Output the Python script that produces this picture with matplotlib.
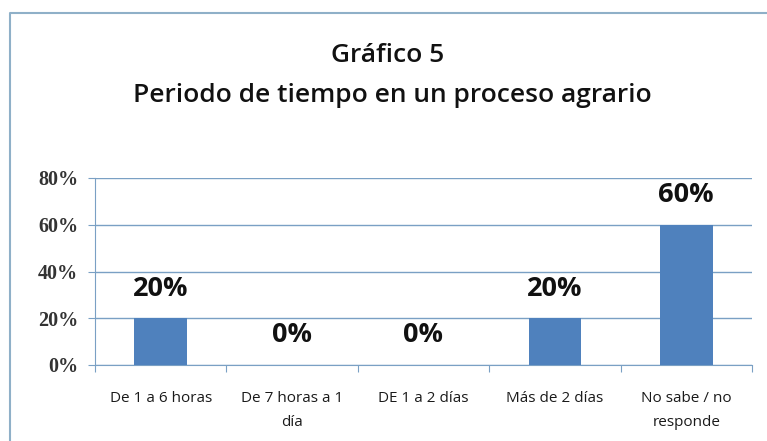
import matplotlib
matplotlib.use("Agg")
import matplotlib.pyplot as plt
from matplotlib.lines import Line2D
from matplotlib.ticker import FuncFormatter

categories = ["De 1 a 6 horas", "De 7 horas a 1\ndía", "DE 1 a 2 días", "Más de 2 días", "No sabe / no\nresponde"]
values = [20, 0, 0, 20, 60]
yticks = [0, 20, 40, 60, 80]
title_lines = ["Gráfico 5", "Periodo de tiempo en un proceso agrario"]

W, H = 767, 441
fig = plt.figure(figsize=(W / 100, H / 100), dpi=100)
fig.patch.set_facecolor("white")

# outer frame (only left and top edges visible)
fig.lines.append(Line2D([9.5 / W, 9.5 / W, 1.0], [0.0, 1 - 12.5 / H, 1 - 12.5 / H],
                        transform=fig.transFigure, color="#8fb0c8", linewidth=1.5))

ax = fig.add_axes([95 / W, (H - 365) / H, (752 - 95) / W, (365 - 178) / H])
x = list(range(len(categories)))
ax.bar(x, values, width=0.4, color="#4f81bd", zorder=3)
ax.set_xlim(-0.5, len(categories) - 0.5)
ax.set_ylim(0, 80)
ax.set_yticks(yticks)
ax.yaxis.set_major_formatter(FuncFormatter(lambda v, p: f"{int(v)}%"))
ax.grid(axis="y", color="#7aa0c4", linewidth=1.0, zorder=0)
for s in ["top", "right"]:
    ax.spines[s].set_visible(False)
for s in ["left", "bottom"]:
    ax.spines[s].set_color("#7aa0c4")
ax.set_xticks([i - 0.5 for i in range(len(categories) + 1)], minor=False)
ax.set_xticklabels([])
ax.set_xticks(x, minor=True)
ax.set_xticklabels(categories, minor=True, fontsize=11, family="Open Sans",
                   color="#1a1a1a", linespacing=1.75)
ax.tick_params(axis="x", which="minor", length=0, pad=19)
ax.tick_params(axis="x", which="major", length=5, color="#7aa0c4", direction="out")
ax.tick_params(axis="y", length=5, color="#7aa0c4", pad=7)
for lab in ax.get_yticklabels():
    lab.set_family("Liberation Serif")
    lab.set_fontsize(14.5)
    lab.set_fontweight("bold")
    lab.set_color("#333333")

for xi, v in zip(x, values):
    ax.annotate(f"{v}%", (xi, v), xytext=(0, 12), textcoords="offset points",
                ha="center", va="bottom", fontsize=19.5, fontweight="bold",
                family="Open Sans", color="#111111")

fig.text(388 / W, 1 - 55 / H, title_lines[0], ha="center", va="center",
         fontsize=19, fontweight="semibold", family="Open Sans", color="#111111")
fig.text(392 / W, 1 - 95 / H, title_lines[1], ha="center", va="center",
         fontsize=19, fontweight="semibold", family="Open Sans", color="#111111")

fig.savefig("out.png", dpi=100, facecolor="white")
